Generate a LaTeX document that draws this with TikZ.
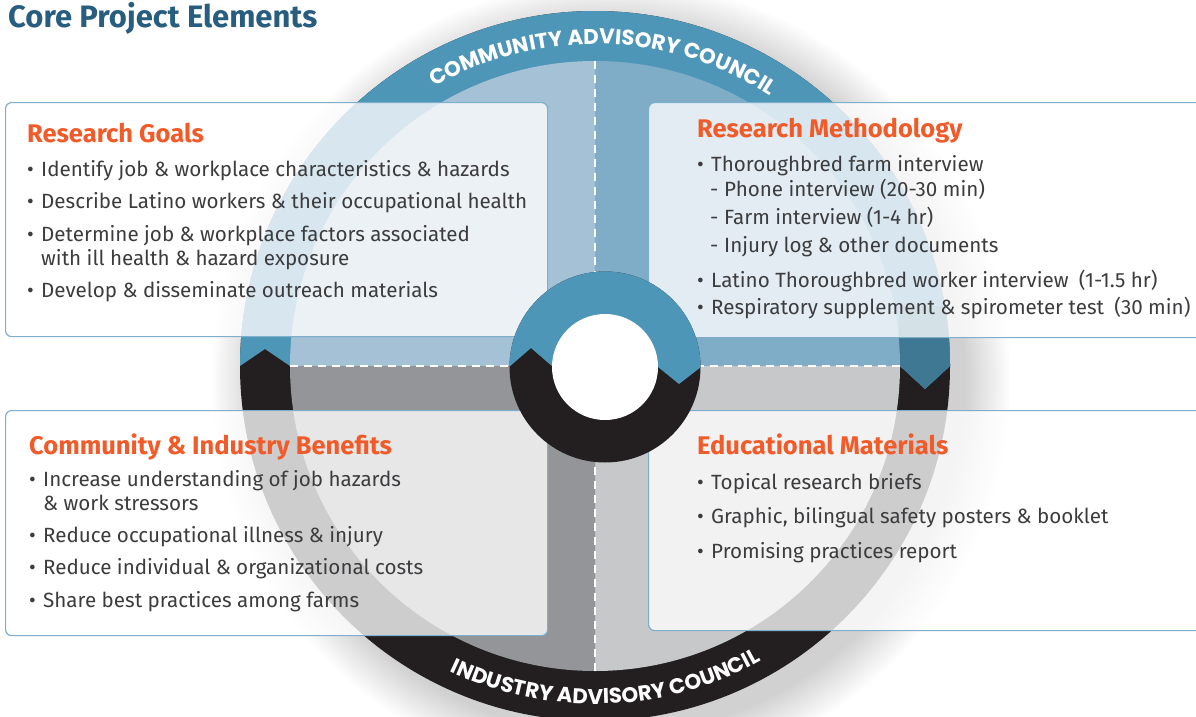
\documentclass[tikz,border=0pt]{standalone}
\usepackage{fontspec}
\setmainfont{Fira Sans}
\newfontfamily\ringfont{Poppins}
\usetikzlibrary{calc,decorations.text}
\definecolor{ringblue}{HTML}{4E96B7}
\definecolor{ringdark}{HTML}{3F7892}
\definecolor{ringblack}{HTML}{231F20}
\definecolor{qtl}{HTML}{A4C1D6}
\definecolor{qtr}{HTML}{7FADC7}
\definecolor{qbl}{HTML}{939598}
\definecolor{qbr}{HTML}{C7C8CA}
\definecolor{titleblue}{HTML}{275D7F}
\definecolor{headorange}{HTML}{F15A29}
\definecolor{bodygray}{HTML}{3C3C3E}
\definecolor{boxline}{HTML}{7DAFCB}
\tikzset{
  panel/.style={draw=boxline, line width=1.2pt, fill=white, fill opacity=0.78, rounded corners=6pt, inner sep=0pt, anchor=north west},
  head/.style={font=\bfseries\fontsize{25.5}{28}\selectfont, text=headorange, anchor=base west, inner sep=0pt},
  body/.style={font=\fontsize{20.6}{24}\selectfont, text=bodygray, anchor=base west, inner sep=0pt},
  divider/.style={white, line width=1.8pt, dash pattern=on 8pt off 6pt},
}
\newcommand{\bul}{\makebox[14pt][l]{\textbullet}}
\newcommand{\dsh}{\makebox[14pt][l]{-}}
\begin{document}
\begin{tikzpicture}[x=1pt,y=1pt]
\useasboundingbox (0,0) rectangle (1196,-717);
\fill[white] (0,0) rectangle (1196,-717);
\coordinate (C) at (595,-366);
\coordinate (H) at (605,-367);
% shadow
\foreach \r in {0,2,...,44} \fill[black,opacity=0.009] ($(C)+(16,-14)$) circle[radius={399pt-\r pt}];
% outer ring
\fill[ringblack] (C) circle[radius=355pt];
\begin{scope}
\clip (C) circle[radius=355pt];
\fill[ringblue] ($(C)+(-360,0)$) -- ($(C)+(-355,0)$) -- ($(C)+(-330,17)$) -- ($(C)+(-305,0)$) -- ($(C)+(305,0)$) -- ($(C)+(330,-23)$) -- ($(C)+(355,0)$) -- ($(C)+(360,0)$) -- ($(C)+(360,360)$) -- ($(C)+(-360,360)$) -- cycle;
\clip ($(C)+(300,0)$) -- ($(C)+(305,0)$) -- ($(C)+(330,-23)$) -- ($(C)+(355,0)$) -- ($(C)+(360,0)$) -- ($(C)+(360,60)$) -- ($(C)+(300,60)$) -- cycle;
\fill[ringdark] ($(C)+(304,-30)$) rectangle ($(C)+(360,60)$);
\end{scope}
% quadrants
\fill[qtl] (C) -- ($(C)+(-305,0)$) arc[start angle=180, end angle=90, radius=305pt] -- cycle;
\fill[qtr] (C) -- ($(C)+(0,305)$) arc[start angle=90, end angle=0, radius=305pt] -- cycle;
\fill[qbr] (C) -- ($(C)+(305,0)$) arc[start angle=0, end angle=-90, radius=305pt] -- cycle;
\fill[qbl] (C) -- ($(C)+(0,-305)$) arc[start angle=-90, end angle=-180, radius=305pt] -- cycle;
\coordinate (vt) at ($(C)+(0,305)$);
\coordinate (vb) at ($(C)+(0,-305)$);
\coordinate (hl) at ($(C)+(-305,0)$);
\coordinate (hr) at ($(C)+(305,0)$);
\draw[divider] (vt) -- (vb);
\draw[divider] (hl) -- (hr);
% ring texts
\path[decorate, decoration={text along path, text align=center, text color=white,
  text={|\ringfont\bfseries\fontsize{21.3}{21}\selectfont|COMMUNITY ADVISORY COUNCIL}}]
  ($(C)+(150:322pt)$) arc[start angle=150, end angle=27, radius=322pt];
\path[decorate, decoration={text along path, text align=center, text color=white,
  text={|\ringfont\bfseries\fontsize{21.3}{21}\selectfont|INDUSTRY ADVISORY COUNCIL}}]
  ($(C)+(-148:338pt)$) arc[start angle=-148, end angle=-28, radius=338pt];
% panels
\node[panel, minimum width=542pt, minimum height=234pt] (rgbox) at (5,-102) {};
\node[panel, minimum width=560pt, minimum height=235pt] (rmbox) at (648,-102) {};
\node[panel, minimum width=542pt, minimum height=225pt] (cibox) at (5,-410) {};
\node[panel, minimum width=560pt, minimum height=220pt] (embox) at (648,-410) {};
% hub
\fill[ringblack] (H) circle[radius=95.5pt];
\begin{scope}
\clip (H) circle[radius=95.5pt];
\fill[ringblue] ($(H)+(-100,0)$) -- ($(H)+(-96,0)$) -- ($(H)+(-74,19)$) -- ($(H)+(-52,0)$) -- ($(H)+(53,0)$) -- ($(H)+(74,-17)$) -- ($(H)+(96,0)$) -- ($(H)+(100,0)$) -- ($(H)+(100,100)$) -- ($(H)+(-100,100)$) -- cycle;
\end{scope}
\fill[white] (H) circle[radius=53pt];
% title
\node[font=\bfseries\fontsize{31}{34}\selectfont, text=titleblue, anchor=base west, inner sep=0pt] (title) at (8,-28) {Core Project Elements};
% Research Goals
\node[head] (rgh) at (27,-142) {Research Goals};
\node[body] (rg1) at (27,-176) {\bul Identify job \& workplace characteristics \& hazards};
\node[body] (rg2) at (27,-208) {\bul Describe Latino workers \& their occupational health};
\node[body] (rg3) at (27,-241) {\bul Determine job \& workplace factors associated};
\node[body] (rg4) at (41,-265) {with ill health \& hazard exposure};
\node[body] (rg5) at (27,-297) {\bul Develop \& disseminate outreach materials};
% Research Methodology
\node[head] (rmh) at (697,-137) {Research Methodology};
\node[body] (rm1) at (697,-171) {\bul Thoroughbred farm interview};
\node[body] (rm2) at (710,-196) {\dsh Phone interview (20-30 min)};
\node[body] (rm3) at (710,-224) {\dsh Farm interview (1-4 hr)};
\node[body] (rm4) at (710,-252) {\dsh Injury log \& other documents};
\node[body] (rm5) at (697,-287) {\bul Latino Thoroughbred worker interview\enspace(1-1.5 hr)};
\node[body] (rm6) at (697,-314) {\bul Respiratory supplement \& spirometer test\enspace(30 min)};
% Community & Industry Benefits
\node[head] (cih) at (29,-454) {Community \& Industry Benefits};
\node[body] (ci1) at (29,-486) {\bul Increase understanding of job hazards};
\node[body] (ci2) at (43,-510) {\& work stressors};
\node[body] (ci3) at (29,-542) {\bul Reduce occupational illness \& injury};
\node[body] (ci4) at (29,-574) {\bul Reduce individual \& organizational costs};
\node[body] (ci5) at (29,-607) {\bul Share best practices among farms};
% Educational Materials
\node[head] (emh) at (697,-454) {Educational Materials};
\node[body] (em1) at (697,-489) {\bul Topical research briefs};
\node[body] (em2) at (697,-523) {\bul Graphic, bilingual safety posters \& booklet};
\node[body] (em3) at (697,-558) {\bul Promising practices report};
\end{tikzpicture}
\end{document}
